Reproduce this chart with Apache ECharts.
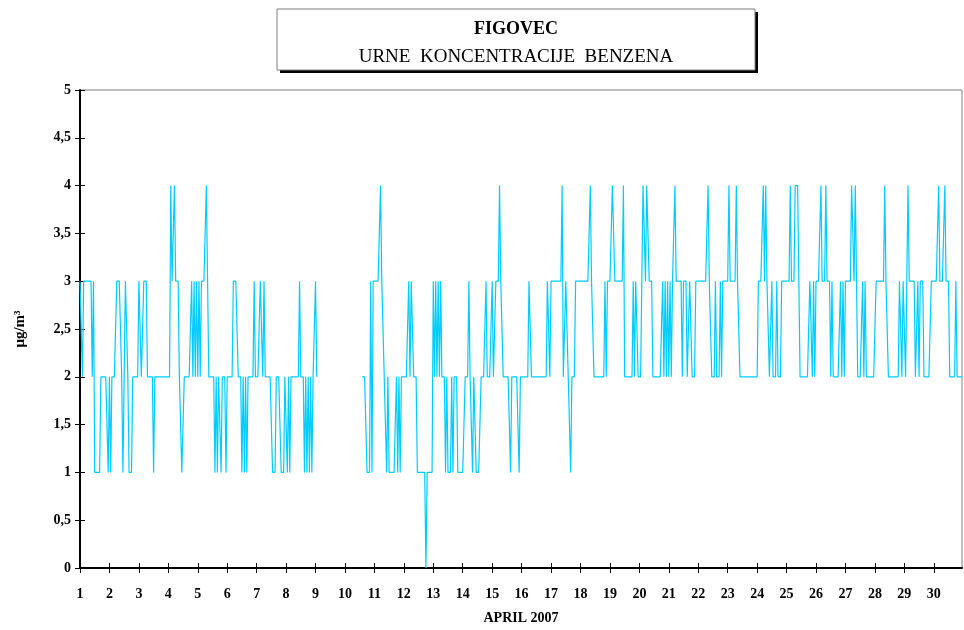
<!DOCTYPE html>
<html>
<head>
<meta charset="utf-8">
<title>FIGOVEC - urne koncentracije benzena</title>
<script src="https://cdn.jsdelivr.net/npm/echarts@6/dist/echarts.min.js"></script>
<style>
  html, body { margin: 0; padding: 0; background: #fff; overflow: hidden; }
  #chart { width: 964px; height: 630px; }
</style>
</head>
<body>
<div id="chart"></div>
<script>
// urne koncentracije benzena, april 2007 (ug/m3), 24 vrednosti na dan, null = ni meritve
var d01 = [3,3,2,3,3,3,3,3,3,3,2,3,1,1,1,1,1,2,2,2,2,2,2,1];
var d02 = [2,1,2,2,2,2,3,3,3,3,2,1,2,3,3,2,1,1,1,2,2,2,2,2];
var d03 = [3,3,2,2,3,3,3,2,2,2,2,2,1,2,2,2,2,2,2,2,2,2,2,2];
var d04 = [2,2,4,3,3,4,3,3,3,2,2,1,1,2,2,2,2,2,2,3,2,3,2,3];
var d05 = [2,3,2,3,3,3,3,4,3,2,2,2,2,2,1,2,1,2,2,1,2,2,2,1];
var d06 = [2,2,2,2,2,3,3,3,3,2,2,2,1,2,1,2,1,2,2,2,2,2,3,2];
var d07 = [2,2,2,3,3,2,3,2,2,2,2,2,2,1,1,1,2,2,2,2,1,1,1,2];
var d08 = [2,1,2,1,2,2,2,2,2,2,2,3,2,2,2,1,2,1,2,1,2,1,2,2];
var d09 = [3,2,null,null,null,null,null,null,null,null,null,null,null,null,null,null,null,null,null,null,null,null,null,null];
var d10 = [null,null,null,null,null,null,null,null,null,null,null,null,null,null,2,2,2,2,1,1,1,3,1,3];
var d11 = [3,3,3,3,3,4,3,3,2,2,1,2,1,1,1,1,1,1,2,1,2,1,2,2];
var d12 = [2,2,2,2,3,2,3,3,2,2,2,1,1,1,1,1,1,1,0,1,1,1,1,1];
var d13 = [3,2,3,2,3,2,3,2,2,2,1,2,1,1,1,2,1,2,2,2,1,1,1,1];
var d14 = [1,1,2,2,2,3,2,2,1,2,2,1,1,1,1,2,2,2,2,3,2,2,2,2];
var d15 = [3,2,2,3,3,3,4,3,3,2,2,2,2,2,2,1,2,2,2,2,2,2,1,2];
var d16 = [2,2,2,2,2,2,3,3,2,2,2,2,2,2,2,2,2,2,2,2,2,3,3,2];
var d17 = [3,3,3,3,3,3,3,3,3,4,2,2,3,3,2,2,1,2,2,2,3,3,3,3];
var d18 = [3,3,3,3,3,3,3,3,4,3,3,2,2,2,2,2,2,2,2,2,3,2,3,3];
var d19 = [3,3,4,4,3,3,3,3,3,3,3,4,2,2,2,2,2,2,2,3,2,3,3,2];
var d20 = [2,2,3,4,4,3,4,4,3,3,3,2,2,2,2,2,2,2,2,3,2,3,2,3];
var d21 = [2,3,2,3,3,4,3,3,3,3,3,2,3,3,3,2,2,3,3,2,2,2,3,3];
var d22 = [3,3,3,3,3,3,3,3,4,3,3,2,2,2,3,2,2,2,3,2,3,3,3,3];
var d23 = [3,4,3,3,3,3,3,4,3,3,2,2,2,2,2,2,2,2,2,2,2,2,2,2];
var d24 = [2,3,3,3,3,4,3,4,3,3,2,2,3,2,2,2,3,2,2,2,3,3,3,3];
var d25 = [3,3,3,4,3,3,3,4,4,4,3,2,2,2,2,2,2,2,2,3,3,2,3,2];
var d26 = [3,3,3,3,4,3,3,3,4,3,3,3,2,3,2,2,2,2,2,2,3,2,3,2];
var d27 = [3,3,3,3,3,4,4,3,4,3,2,2,2,2,3,2,3,2,2,2,2,2,2,2];
var d28 = [2,3,3,3,3,3,3,3,4,3,3,2,2,2,2,2,2,2,2,2,3,3,2,3];
var d29 = [3,2,3,4,3,3,3,3,3,2,2,3,2,3,3,3,2,2,2,2,2,2,3,3];
var d30 = [3,3,3,3,4,3,3,3,3,4,3,3,3,2,2,2,2,2,3,2,2,2,2,2];

var days = [d01,d02,d03,d04,d05,d06,d07,d08,d09,d10,d11,d12,d13,d14,d15,
            d16,d17,d18,d19,d20,d21,d22,d23,d24,d25,d26,d27,d28,d29,d30];
var dayLabels = ['1','2','3','4','5','6','7','8','9','10','11','12','13','14','15',
                 '16','17','18','19','20','21','22','23','24','25','26','27','28','29','30'];

// kategorije = ure, oznaka dneva na prvi uri
var hours = [];
var values = [];
for (var i = 0; i < days.length; i++) {
  for (var h = 0; h < 24; h++) {
    hours.push(h == 0 ? dayLabels[i] : '');
    values.push(days[i][h]);
  }
}

var serif = '"Liberation Serif", "Times New Roman", serif';
var dayTick = function (idx) { return idx % 24 === 0; };

var chart = echarts.init(document.getElementById('chart'));

chart.setOption({
  animation: false,
  backgroundColor: '#ffffff',
  grid: {
    left: 80, right: 2, top: 90, bottom: 52,
    show: true, borderColor: '#808080', borderWidth: 1
  },
  graphic: [
    { type: 'rect', shape: { x: 280, y: 12, width: 478, height: 61 }, style: { fill: '#000' }, z: 10 },
    { type: 'rect', shape: { x: 277, y: 9, width: 478, height: 61 }, style: { fill: '#fff', stroke: '#808080', lineWidth: 1 }, z: 11 },
    { type: 'text', x: 516, y: 29, z: 12,
      style: { text: 'FIGOVEC', font: 'bold 18px ' + serif, fill: '#000', textAlign: 'center', textVerticalAlign: 'middle' } },
    { type: 'text', x: 516, y: 57, z: 12,
      style: { text: 'URNE  KONCENTRACIJE  BENZENA', font: '19px ' + serif, fill: '#000', textAlign: 'center', textVerticalAlign: 'middle' } }
  ],
  xAxis: [{
    type: 'category',
    data: hours,
    boundaryGap: false,
    name: 'APRIL 2007',
    nameLocation: 'middle',
    nameGap: 43,
    nameTextStyle: { fontFamily: serif, fontWeight: 'bold', fontSize: 14, color: '#000' },
    axisLine: { lineStyle: { color: '#000', width: 2 } },
    axisTick: { interval: dayTick, length: 5, lineStyle: { color: '#000', width: 1 } },
    axisLabel: { interval: dayTick, margin: 19, fontFamily: serif, fontWeight: 'bold', fontSize: 14, color: '#000' },
    splitLine: { show: false }
  }, {
    // notranji del kljukic
    type: 'category',
    data: hours,
    boundaryGap: false,
    position: 'bottom',
    axisLine: { show: false },
    axisTick: { inside: true, interval: dayTick, length: 5, lineStyle: { color: '#000', width: 1 } },
    axisLabel: { show: false },
    splitLine: { show: false }
  }],
  yAxis: [{
    type: 'value',
    min: 0, max: 5, interval: 0.5,
    name: 'μg/m³',
    nameLocation: 'middle',
    nameRotate: 90,
    nameGap: 52,
    nameTextStyle: { fontFamily: serif, fontWeight: 'bold', fontSize: 15, color: '#000' },
    axisLine: { show: true, lineStyle: { color: '#000', width: 2 } },
    axisTick: { show: true, length: 5, lineStyle: { color: '#000', width: 1 } },
    axisLabel: {
      margin: 9, fontFamily: serif, fontWeight: 'bold', fontSize: 14, color: '#000',
      formatter: function (v) { return String(v).replace('.', ','); }
    },
    splitLine: { show: false }
  }, {
    type: 'value',
    min: 0, max: 5, interval: 0.5,
    position: 'left',
    axisLine: { show: false },
    axisTick: { show: true, inside: true, length: 5, lineStyle: { color: '#000', width: 1 } },
    axisLabel: { show: false },
    splitLine: { show: false }
  }],
  series: [{
    type: 'line',
    data: values,
    showSymbol: false,
    connectNulls: false,
    lineStyle: { color: '#00CCFF', width: 1.2 },
    itemStyle: { color: '#00CCFF' }
  }]
});
</script>
</body>
</html>
